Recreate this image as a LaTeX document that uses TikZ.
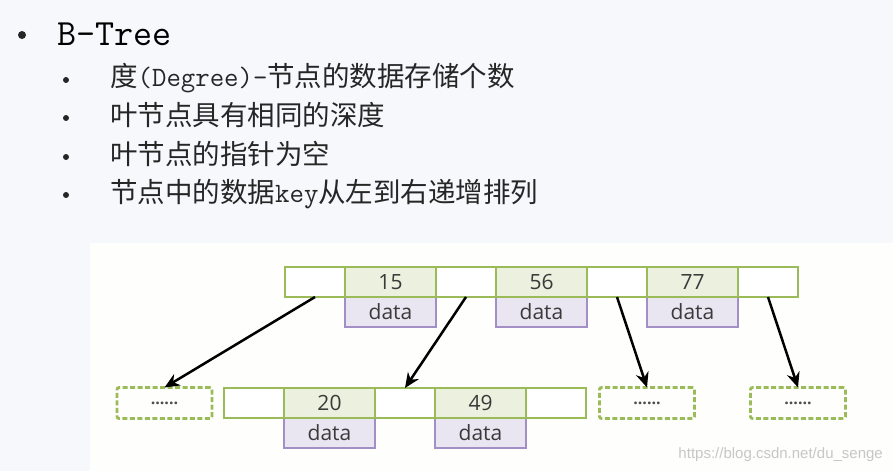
\documentclass[tikz,border=0pt]{standalone}
\usepackage{fontspec}
\newfontfamily\cjk{Noto Sans CJK SC}
\newfontfamily\cellfont{Open Sans}
\newfontfamily\urlfont{Liberation Sans}
\newcommand\latin[1]{{\ttfamily\fontsize{28}{28}\selectfont #1}}
\usetikzlibrary{positioning,arrows.meta}
\definecolor{bg}{HTML}{F7F8FB}
\definecolor{panel}{HTML}{FEFEFD}
\definecolor{leaf}{HTML}{9BBB59}
\definecolor{keyfill}{HTML}{EBF1DE}
\definecolor{dataline}{HTML}{A18FC6}
\definecolor{datafill}{HTML}{EAE6F1}
\definecolor{ink}{HTML}{3A3A3A}

\begin{document}
\begin{tikzpicture}[x=1pt, y=1pt, node distance=0pt,
  cell/.style={draw=leaf, line width=2.8pt, minimum height=30pt, inner sep=0pt, outer sep=0pt,
    font=\cellfont\fontsize{21}{21}\selectfont, text=ink},
  ptr/.style={cell, minimum width=60pt, fill=white},
  keycell/.style={cell, minimum width=91pt, fill=keyfill},
  rec/.style={cell, draw=dataline, minimum width=91pt, fill=datafill},
  stub/.style={cell, dash pattern=on 5pt off 2.5pt, rounded corners=2pt, minimum width=95pt,
    minimum height=31pt, text=black!70, font=\cellfont\bfseries\fontsize{16}{16}\selectfont},
  bul/.style={circle, fill=black!85, inner sep=0pt, minimum size=6pt},
  txt/.style={anchor=base west, inner sep=0pt, text=black!85, font=\fontsize{27.5}{27.5}\selectfont},
  arr/.style={-{Stealth[length=15pt, width=13pt]}, line width=2.5pt}]
\fill[bg] (0,0) rectangle (893,471);
\fill[panel] (90,0) rectangle (893,228);
% list
\node[bul, minimum size=8pt] (b0) at (22,436) {};
\node[anchor=base west, inner sep=0pt, font=\ttfamily\fontsize{37}{37}\selectfont] (title) at (57,425) {B-Tree};
\node[bul] (b1) at (66,391) {};
\node[bul] (b2) at (66,353) {};
\node[bul] (b3) at (66,314) {};
\node[bul] (b4) at (66,276) {};
\node[txt] (l1) at (110,384) {\cjk 度\latin{(Degree)-}节点的数据存储个数};
\node[txt] (l2) at (110,345) {\cjk 叶节点具有相同的深度};
\node[txt] (l3) at (110,306) {\cjk 叶节点的指针为空};
\node[txt] (l4) at (110,268) {\cjk 节点中的数据\latin{key}从左到右递增排列};
% root
\node[rec] (d15) at (390.5,159) {data};
\node[rec, right=60pt of d15] (d56) {data};
\node[rec, right=60pt of d56] (d77) {data};
\node[keycell, above=of d15] (k15) {15};
\node[keycell, above=of d56] (k56) {56};
\node[keycell, above=of d77] (k77) {77};
\node[ptr, left=of k15] (p0) {};
\node[ptr, right=of k15] (p1) {};
\node[ptr, right=of k56] (p2) {};
\node[ptr, right=of k77] (p3) {};
% second level
\node[rec] (d20) at (329.5,38) {data};
\node[rec, right=60pt of d20] (d49) {data};
\node[keycell, above=of d20] (k20) {20};
\node[keycell, above=of d49] (k49) {49};
\node[ptr, left=of k20] (q0) {};
\node[ptr, right=of k20] (q1) {};
\node[ptr, right=of k49] (q2) {};
\node[stub] (m1) at (164.5,68) {......};
\node[stub] (m2) at (647,68) {......};
\node[stub] (m3) at (798,68) {......};
\draw[arr] (p0.south) -- (m1.north); \draw[arr] (p1.south) -- (q1.north);
\draw[arr] (p2.south) -- (m2.north); \draw[arr] (p3.south) -- (m3.north);
\node[anchor=base east, inner sep=0pt, font=\urlfont\fontsize{15}{15}\selectfont, text=black!22] (url) at (883,13) {https://blog.csdn.net/du\_senge};
\end{tikzpicture}
\end{document}
